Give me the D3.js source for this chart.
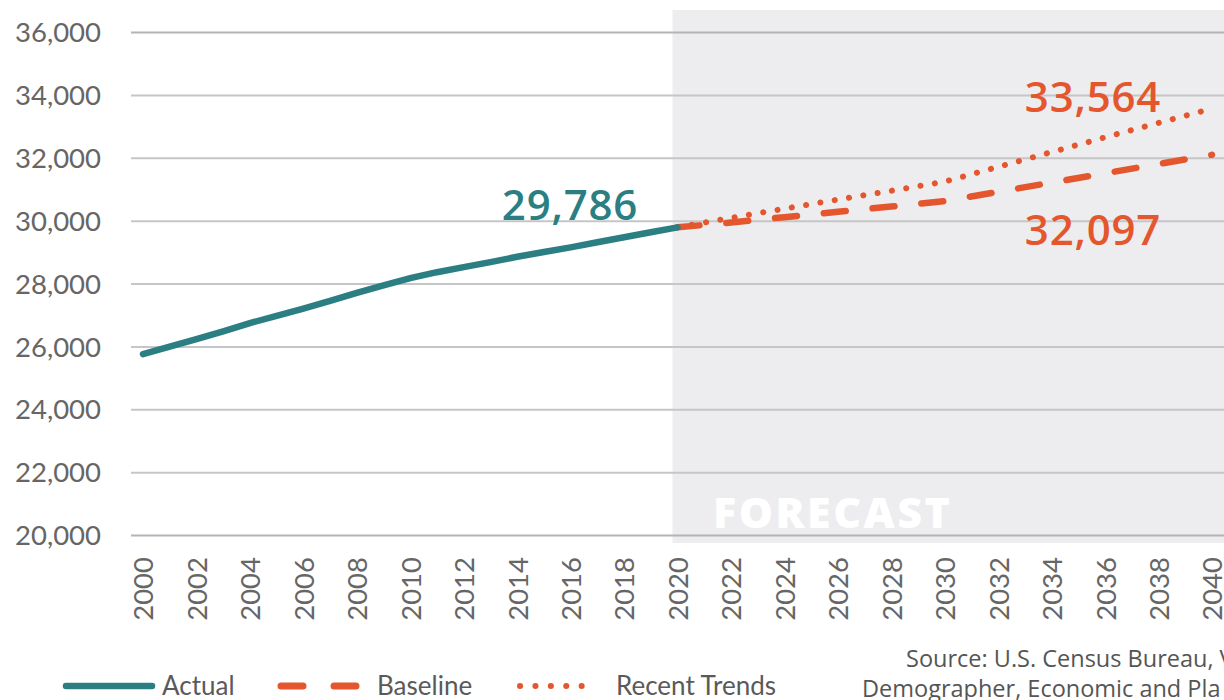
<!DOCTYPE html>
<html>
<head>
<meta charset="utf-8">
<script src="https://cdn.jsdelivr.net/npm/d3@7"></script>
<style>
  body { margin: 0; background: #fff; }
  svg { display: block; }
  .tick-label { font-family: Lato, "Noto Sans", sans-serif; fill: #666; }
  .legend-text { font-family: Lato, "Noto Sans", sans-serif; fill: #5a5a5a; font-size: 26px; }
  .source { font-family: "Open Sans", sans-serif; fill: #555; font-size: 23.5px; }
</style>
</head>
<body>
<div id="chart"></div>
<script>
// actual population, yearly
var actualYears = [2000, 2001, 2002, 2003, 2004, 2005, 2006, 2007, 2008, 2009, 2010,
                   2011, 2012, 2013, 2014, 2015, 2016, 2017, 2018, 2019, 2020];
var actualValues = [25750, 25990, 26230, 26480, 26740, 26970, 27200, 27450, 27700, 27940, 28170,
                    28360, 28520, 28680, 28850, 29000, 29150, 29310, 29470, 29630, 29786];

// forecast scenarios
var forecastYears = [2020, 2022, 2024, 2026, 2028, 2030, 2032, 2034, 2036, 2038, 2040];
var baselineValues = [29786, 29940, 30110, 30280, 30450, 30620, 30915, 31210, 31505, 31800, 32097];
var recentValues = [29786, 30090, 30380, 30670, 30950, 31240, 31710, 32180, 32650, 33110, 33564];

var yTicks = [20000, 22000, 24000, 26000, 28000, 30000, 32000, 34000, 36000];
var xTicks = [2000, 2002, 2004, 2006, 2008, 2010, 2012, 2014, 2016, 2018, 2020,
              2022, 2024, 2026, 2028, 2030, 2032, 2034, 2036, 2038, 2040];

var teal = "#2b7f83";
var orange = "#e4572e";

var svgWidth = 1224;
var svgHeight = 700;

var svg = d3.select("#chart")
    .append("svg")
    .attr("width", svgWidth)
    .attr("height", svgHeight);

var xScale = d3.scaleLinear().domain([2000, 2040]).range([143, 1212]);
var yScale = d3.scaleLinear().domain([20000, 36000]).range([535, 32]);

// forecast shading
svg.append("rect")
    .attr("x", xScale(2020) - 5)
    .attr("y", 10)
    .attr("width", svgWidth - xScale(2020) + 5)
    .attr("height", 533)
    .attr("fill", "#ededf0");

svg.append("text")
    .attr("x", 713)
    .attr("y", 528)
    .attr("font-family", "'Open Sans', sans-serif")
    .attr("font-weight", 800)
    .attr("font-size", 43)
    .attr("letter-spacing", 2.5)
    .attr("fill", "#fff")
    .text("FORECAST");

// y axis with gridlines
var leftAxis = d3.axisLeft(yScale)
    .tickValues(yTicks)
    .tickSize(-(svgWidth - 131))
    .tickPadding(30)
    .tickFormat(d3.format(","));

var yAxisG = svg.append("g")
    .attr("transform", "translate(131, 0)")
    .call(leftAxis);
yAxisG.select(".domain").remove();
yAxisG.selectAll(".tick line")
    .attr("stroke", "#c6c6c6")
    .attr("stroke-width", 2);
yAxisG.selectAll(".tick line")
    .filter(d => d === 20000 || d === 36000)
    .attr("stroke", "#b4b4b4");
yAxisG.selectAll(".tick text")
    .attr("class", "tick-label")
    .attr("font-size", 27.5)
    .attr("dy", "0.35em");

// x axis, rotated labels
var bottomAxis = d3.axisBottom(xScale)
    .tickValues(xTicks)
    .tickSize(0)
    .tickFormat(d3.format("d"));

var xAxisG = svg.append("g")
    .attr("transform", "translate(0, 535)")
    .call(bottomAxis);
xAxisG.select(".domain").remove();
xAxisG.selectAll(".tick text")
    .attr("class", "tick-label")
    .attr("font-size", 27.5)
    .attr("transform", "rotate(-90)")
    .attr("text-anchor", "end")
    .attr("x", -22)
    .attr("y", 0)
    .attr("dy", "0.36em");

// lines
var line = d3.line()
    .x(d => xScale(d[0]))
    .y(d => yScale(d[1]));

svg.append("path")
    .datum(d3.zip(forecastYears, baselineValues))
    .attr("d", line)
    .attr("fill", "none")
    .attr("stroke", orange)
    .attr("stroke-width", 6.5)
    .attr("stroke-linecap", "round")
    .attr("stroke-dasharray", "22 27");

svg.append("path")
    .datum(d3.zip(forecastYears, recentValues))
    .attr("d", line)
    .attr("fill", "none")
    .attr("stroke", orange)
    .attr("stroke-width", 6)
    .attr("stroke-linecap", "round")
    .attr("stroke-dasharray", "0.1 14.4");

svg.append("path")
    .datum(d3.zip(actualYears, actualValues))
    .attr("d", line)
    .attr("fill", "none")
    .attr("stroke", teal)
    .attr("stroke-width", 6.5)
    .attr("stroke-linecap", "round");

// value labels
var labelFont = "'Open Sans', sans-serif";
function valueLabel(x, y, color, value) {
    svg.append("text")
        .attr("x", x)
        .attr("y", y)
        .attr("text-anchor", "middle")
        .attr("font-family", labelFont)
        .attr("font-weight", 600)
        .attr("font-size", 42)
        .attr("letter-spacing", 0.8)
        .attr("fill", color)
        .text(d3.format(",")(value));
}
valueLabel(570, 220, teal, actualValues[actualValues.length - 1]);
valueLabel(1093, 112, orange, recentValues[recentValues.length - 1]);
valueLabel(1093, 245, orange, baselineValues[baselineValues.length - 1]);

// legend
var legend = svg.append("g");
legend.append("line")
    .attr("x1", 66).attr("x2", 152)
    .attr("y1", 686).attr("y2", 686)
    .attr("stroke", teal).attr("stroke-width", 6.5)
    .attr("stroke-linecap", "round");
legend.append("text").attr("class", "legend-text")
    .attr("x", 162).attr("y", 695).text("Actual");

legend.append("line")
    .attr("x1", 281).attr("x2", 356)
    .attr("y1", 686).attr("y2", 686)
    .attr("stroke", orange).attr("stroke-width", 7)
    .attr("stroke-linecap", "round")
    .attr("stroke-dasharray", "22 31");
legend.append("text").attr("class", "legend-text")
    .attr("x", 377).attr("y", 695).text("Baseline");

legend.append("line")
    .attr("x1", 520).attr("x2", 597)
    .attr("y1", 686).attr("y2", 686)
    .attr("stroke", orange).attr("stroke-width", 6)
    .attr("stroke-linecap", "round")
    .attr("stroke-dasharray", "0.1 15.3");
legend.append("text").attr("class", "legend-text")
    .attr("x", 616).attr("y", 695).text("Recent Trends");

// source note (runs past the right edge in the original)
svg.append("text").attr("class", "source")
    .attr("x", 906).attr("y", 667)
    .text("Source: U.S. Census Bureau, V");
svg.append("text").attr("class", "source")
    .attr("x", 862).attr("y", 697)
    .text("Demographer, Economic and Pla");
</script>
</body>
</html>
